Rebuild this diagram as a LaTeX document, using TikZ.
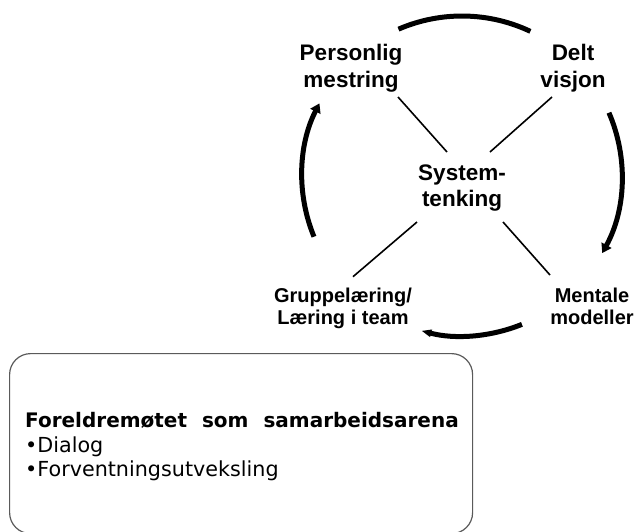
\documentclass[tikz,border=0pt]{standalone}
\usepackage{fontspec}
\setmainfont{Liberation Sans}
\newfontfamily\boxfont{DejaVu Sans}
\usetikzlibrary{arrows.meta,calc}
\definecolor{boxgray}{HTML}{5A5A5A}

\begin{document}
\begin{tikzpicture}[x=1pt,y=-1pt,
  big/.style={font=\bfseries\fontsize{22.5}{26.5}\selectfont, align=center, inner sep=0pt},
  small/.style={font=\bfseries\fontsize{20}{22}\selectfont, align=center, inner sep=0pt},
  cyclearc/.style={line width=5pt},
  arrowed/.style={-{Triangle[length=9pt,width=11pt]}},
  slimarrow/.style={-{Triangle[length=10pt,width=7pt]}},
  spoke/.style={line width=1.6pt},
  panel/.style={draw=boxgray, line width=1.2pt, rounded corners=21pt, inner sep=0pt}]
\useasboundingbox (0,0) rectangle (635,531);

% the five disciplines
\node[big]   (pm)  at (351,68)    {Personlig\\mestring};
\node[big]   (dv)  at (573,68)    {Delt\\visjon};
\node[big]   (sys) at (462,188)   {System-\\tenking};
\node[small] (gl)  at (343,308.7) {Gruppelæring/\\Læring i team};
\node[small] (mm)  at (592,306)   {Mentale\\modeller};

% spokes from the centre
\draw[spoke] ($(sys)+(-15,-36)$) -- ($(pm)+(47,29)$);
\draw[spoke] ($(sys)+(28,-36)$)  -- ($(dv)+(-21,29)$);
\draw[spoke] ($(sys)+(-45,34)$)  -- ($(gl)+(10,-32)$);
\draw[spoke] ($(sys)+(41,34)$)   -- ($(mm)+(-42,-31)$);

% clockwise cycle around the centre
\coordinate (c) at (462,176);
\draw[cyclearc] ($(c)+(-113.4:160)$) arc[start angle=-113.4, end angle=-64.7, radius=160];
\draw[cyclearc, arrowed] ($(c)+(-23.3:160)$) arc[start angle=-23.3, end angle=28.8, radius=160];
\draw[cyclearc, slimarrow] ($(c)+(68:160)$) arc[start angle=68, end angle=104.7, radius=160];
\draw[cyclearc, arrowed] ($(c)+(157.7:160)$) arc[start angle=157.7, end angle=207, radius=160];

% panel with the parents' meeting
\node[panel, minimum width=463pt, minimum height=180pt, anchor=north west] (panel) at (9,353) {};
\node[anchor=north west, inner sep=0pt, align=left,
      font=\boxfont\fontsize{20.7}{24.7}\selectfont] (txt) at (25,412)
  {{\bfseries\fontsize{20}{24.7}\selectfont Foreldremøtet\hspace{15pt}som\hspace{15pt}samarbeidsarena}\\
   •Dialog\\
   •Forventningsutveksling};
\end{tikzpicture}
\end{document}
